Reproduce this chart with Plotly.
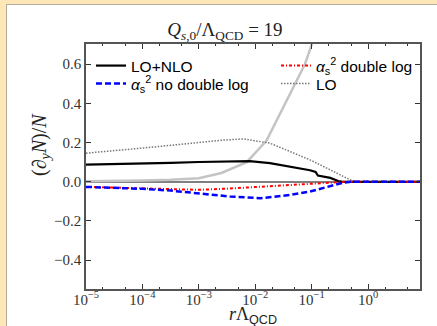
import numpy as np
import plotly.graph_objects as go

# ---- data (log10 of r*Lambda_QCD) ----
lx_nlo = [-5, -4.5, -4, -3.5, -3, -2.5, -2.1, -1.74, -1.38, -1.03, -0.93, -0.89, -0.67, -0.53, -0.45, 0, 0.5, 0.92]
y_nlo = [0.088, 0.09, 0.093, 0.097, 0.101, 0.104, 0.105, 0.095, 0.078, 0.059, 0.05, 0.032, 0.02, 0.004, 0.0, 0.0, 0.0, 0.0]

lx_lo = [-5, -4.5, -4, -3.5, -3, -2.6, -2.2, -1.74, -1.38, -1.03, -0.67, -0.32, -0.2, 0, 0.5, 0.92]
y_lo = [0.146, 0.158, 0.172, 0.186, 0.2, 0.212, 0.219, 0.197, 0.154, 0.112, 0.061, 0.01, 0.0, 0.0, 0.0, 0.0]

lx_dl = [-5, -4.5, -4, -3.5, -3, -2.5, -2.1, -1.38, -0.9, -0.5, -0.4, 0, 0.5, 0.92]
y_dl = [-0.026, -0.03, -0.034, -0.038, -0.041, -0.035, -0.028, -0.016, -0.007, -0.002, 0.0, 0.0, 0.0, 0.0]

lx_ndl = [-5, -4.5, -4, -3.5, -3, -2.45, -1.91, -1.38, -1.03, -0.67, -0.45, -0.3, 0, 0.5, 0.92]
y_ndl = [-0.026, -0.03, -0.036, -0.045, -0.058, -0.075, -0.084, -0.067, -0.05, -0.021, -0.005, 0.0, 0.0, 0.0, 0.0]

lx_gray = [-5, -4.5, -4, -3.5, -3, -2.6, -2.15, -1.8, -1.44, -1.12, -1.0, -0.9]
y_gray = [0.003, 0.004, 0.006, 0.01, 0.018, 0.045, 0.1, 0.21, 0.42, 0.6, 0.70, 0.8]

x_tickvals = [1e-5, 1e-4, 1e-3, 1e-2, 1e-1, 1e0]
x_ticktext = ["10<sup>−5</sup>", "10<sup>−4</sup>", "10<sup>−3</sup>", "10<sup>−2</sup>",
              "10<sup>−1</sup>", "10<sup>0</sup>"]
y_tickvals = [-0.4, -0.2, 0.0, 0.2, 0.4, 0.6]

def tox(l):
    return [10 ** v for v in l]

SERIF = "Liberation Serif"
SANS = "Liberation Sans"
ALPHA = "<i>α</i><sub>s</sub><sup>2</sup>"

W, H = 437, 326
L, R, T, B = 86, 17, 44, 37
pw, ph = W - L - R, H - T - B

def px(xp):
    return (xp - L) / pw

def py(yp):
    return (H - B - yp) / ph

fig = go.Figure()
fig.add_trace(go.Scatter(x=tox(lx_gray), y=y_gray, mode="lines", showlegend=False,
                         line=dict(color="#c4c4c4", width=2.5)))
fig.add_trace(go.Scatter(x=tox(lx_lo), y=y_lo, mode="lines", name="LO", legend="legend4",
                         line=dict(color="#777777", width=1.5, dash="1.5px,1.5px")))
fig.add_trace(go.Scatter(x=tox(lx_nlo), y=y_nlo, mode="lines", name="LO+NLO", legend="legend",
                         line=dict(color="black", width=2.2)))
fig.add_trace(go.Scatter(x=tox(lx_dl), y=y_dl, mode="lines",
                         name=ALPHA + " double log", legend="legend2",
                         line=dict(color="red", width=2, dash="3px,2px,1px,2px")))
fig.add_trace(go.Scatter(x=tox(lx_ndl), y=y_ndl, mode="lines",
                         name=ALPHA + " no double log", legend="legend3",
                         line=dict(color="blue", width=2.5, dash="6px,3px")))

fig.add_shape(type="rect", xref="paper", yref="paper", layer="below",
              x0=px(6), x1=px(W + 5), y0=py(H + 5), y1=py(4),
              fillcolor="#b3ab9c", line=dict(width=0))
fig.add_shape(type="rect", xref="paper", yref="paper", layer="below",
              x0=px(7), x1=px(W + 5), y0=py(H + 5), y1=py(5),
              fillcolor="white", line=dict(width=0))

def leg(xp, yp):
    return dict(x=px(xp), xanchor="left", y=py(yp), yanchor="middle",
                font=dict(family=SANS, size=15.5, color="black"),
                bgcolor="rgba(0,0,0,0)", borderwidth=0)

fig.update_layout(
    width=W, height=H,
    margin=dict(l=L, r=R, t=T, b=B),
    paper_bgcolor="#fde7b6",
    plot_bgcolor="white",
    title=dict(text="<i>Q</i><sub><i>s</i>,0</sub>/Λ<sub>QCD</sub> = 19",
               x=px(225), xref="paper", xanchor="center",
               y=1 - 29 / H, yref="container", yanchor="middle",
               font=dict(family=SERIF, size=19, color="#222")),
    legend=leg(91, 66),
    legend2=leg(276, 66),
    legend3=leg(91, 84),
    legend4=leg(276, 84),
    xaxis=dict(type="log", range=[-5, 0.92], tickvals=x_tickvals, ticktext=x_ticktext,
               ticks="inside", ticklen=5, tickcolor="#333", mirror="ticks",
               showline=True, linecolor="#555", linewidth=1.5,
               showgrid=False, zeroline=False, ticklabelstandoff=-4,
               minor=dict(ticks="inside", ticklen=2.5, tickcolor="#333", showgrid=False),
               tickfont=dict(family=SERIF, size=15, color="#333")),
    yaxis=dict(range=[-0.547, 0.703], tickvals=y_tickvals, tickformat=".1f",
               ticks="inside", ticklen=5, tickcolor="#333", mirror="ticks",
               showline=True, linecolor="#555", linewidth=1.5,
               showgrid=False, zeroline=True, zerolinecolor="#808080", zerolinewidth=2,
               tickfont=dict(family=SERIF, size=15, color="#333")),
    annotations=[
        dict(text="<i>r</i>Λ<sub><span style='font-family:Liberation Sans'>QCD</span></sub>",
             xref="paper", yref="paper", x=px(253), y=py(315),
             xanchor="center", yanchor="middle", showarrow=False,
             font=dict(family=SERIF, size=18, color="#222")),
        dict(text="(∂<sub><i>y</i></sub><i>N</i>)/<i>N</i>",
             xref="paper", yref="paper", x=px(40), y=py(145),
             xanchor="center", yanchor="middle", showarrow=False, textangle=-90,
             font=dict(family=SERIF, size=20, color="#222")),
    ],
)

fig.write_html("out.html", config={"displayModeBar": False},
               post_script="document.body.style.margin='0';document.body.style.overflow='hidden';")
